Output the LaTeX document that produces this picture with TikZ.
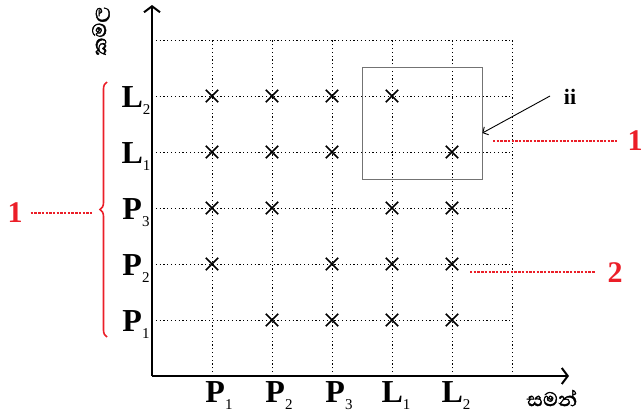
\documentclass[tikz,border=0pt]{standalone}
\usepackage{fontspec}
\setmainfont{Liberation Serif}
\newfontfamily\sinfont[Script=Sinhala, FakeBold=1.5]{Abhaya Libre}
\usetikzlibrary{arrows.meta,decorations.pathreplacing}
\definecolor{myred}{RGB}{235,30,40}
\tikzset{
  grid line/.style={line width=0.7pt, dash pattern=on 1.2pt off 2.6pt},
  axis/.style={line width=2.2pt, -{Straight Barb[length=6pt,width=16pt,line width=2pt]}},
  cross/.style={line width=1.7pt},
  lbl/.style={font=\fontsize{32}{32}\selectfont\bfseries, inner sep=0pt, anchor=base},
  reddash/.style={myred, line width=1.3pt, dash pattern=on 2.4pt off 1.3pt},
  rednum/.style={myred, font=\fontsize{30}{30}\selectfont\bfseries, inner sep=0pt},
  sintxt/.style={font=\sinfont\fontsize{25}{25}\selectfont, inner sep=0pt},
}
\newcommand{\sbx}[1]{\raisebox{-7pt}{\fontsize{15}{15}\selectfont\mdseries #1}}
\begin{document}
\begin{tikzpicture}[x=1pt,y=-1pt]
\useasboundingbox (0,0) rectangle (642,415);
% grid
\foreach \x in {212,272,332,392,452,512}
  \draw[grid line] (\x,376) -- (\x,40);
\foreach \y in {40,96,152,208,264,320}
  \draw[grid line] (152,\y) -- (512,\y);
% axes
\coordinate (O) at (152,376);
\coordinate (Ytop) at (152,5);
\coordinate (Xend) at (569,376);
\draw[axis] (O) -- (Ytop);
\draw[axis] (O) -- (Xend);
% crosses
\foreach \x/\y in {212/96,272/96,332/96,392/96,
                   212/152,272/152,332/152,452/152,
                   212/208,272/208,392/208,452/208,
                   212/264,332/264,392/264,452/264,
                   272/320,332/320,392/320,452/320}
  \draw[cross] (\x-6.2,\y-6.2) -- (\x+6.2,\y+6.2) (\x-6.2,\y+6.2) -- (\x+6.2,\y-6.2);
% left labels
\node[lbl] (yL2) at (136,107) {L\sbx{2}};
\node[lbl] (yL1) at (136,163) {L\sbx{1}};
\node[lbl] (yP3) at (136,219) {P\sbx{3}};
\node[lbl] (yP2) at (136,275) {P\sbx{2}};
\node[lbl] (yP1) at (136,331) {P\sbx{1}};
% bottom labels
\node[lbl] (xP1) at (219,402) {P\sbx{1}};
\node[lbl] (xP2) at (279,402) {P\sbx{2}};
\node[lbl] (xP3) at (339,402) {P\sbx{3}};
\node[lbl] (xL1) at (396,402) {L\sbx{1}};
\node[lbl] (xL2) at (456,402) {L\sbx{2}};
% axis titles
\node[sintxt] (xt) at (552,398) {සමන්};
\node[sintxt, rotate=90] (yt) at (101,31) {කමල};
% box and arrow
\node[draw=black!55, line width=0.8pt, minimum width=120pt, minimum height=112pt, inner sep=0pt] (box) at (422,123) {};
\node[font=\fontsize{22}{22}\selectfont\bfseries, inner sep=0pt] (ii) at (570,97) {ii};
\coordinate (arrs) at (550,96);
\draw[line width=0.9pt, -{Straight Barb[length=4pt,width=9pt]}] (arrs) -- (box.east |- 0,133);
% red annotations
\node[rednum] (r1) at (635,141) {1};
\coordinate (r1s) at (493,141);
\draw[reddash] (r1s) -- ([xshift=-10pt]r1.west);
\node[rednum] (r2) at (615,273) {2};
\coordinate (r2s) at (470,272);
\draw[reddash] (r2s) -- ([xshift=-12pt]r2.west |- r2s);
\node[rednum] (l1) at (15,213) {1};
\coordinate (bt) at (92,213);
\draw[reddash] ([xshift=8pt]l1.east) -- (bt);
\draw[myred, line width=1.6pt, decorate, decoration={brace, amplitude=7pt}] (107,337) -- (107,82);
\end{tikzpicture}
\end{document}
